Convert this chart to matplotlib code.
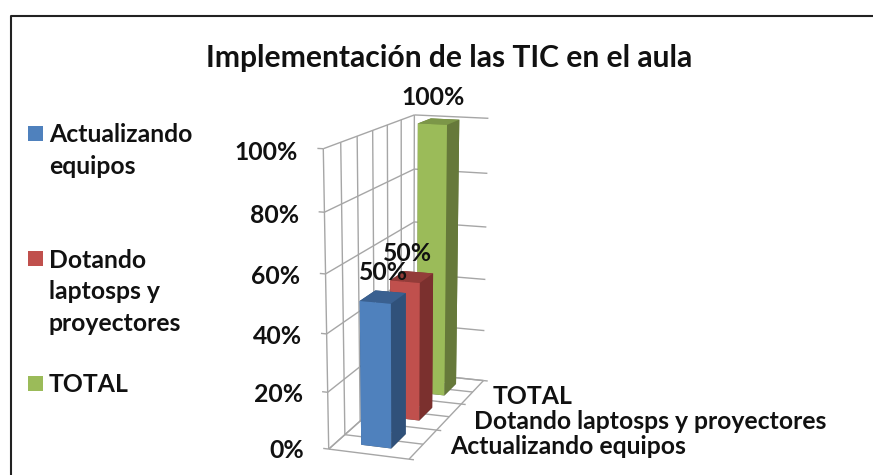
import numpy as np
import matplotlib
matplotlib.use("Agg")
import matplotlib.pyplot as plt
from mpl_toolkits.mplot3d import Axes3D  # noqa
from mpl_toolkits.mplot3d.art3d import Line3DCollection

categories = ["Actualizando equipos", "Dotando laptosps y proyectores", "TOTAL"]
legend_labels = ["Actualizando\nequipos", "Dotando\nlaptosps y\nproyectores", "TOTAL"]
values = [0.50, 0.50, 1.00]
value_labels = ["50%", "50%", "100%"]
yticks = [0.0, 0.2, 0.4, 0.6, 0.8, 1.0]
ytick_labels = ["0%", "20%", "40%", "60%", "80%", "100%"]
title = "Implementación de las TIC en el aula"
front_colors = ["#4F81BD", "#C0504D", "#9BBB59"]
side_colors = ["#30517A", "#7B302E", "#66793A"]
top_colors = ["#3A6090", "#933C39", "#7C9648"]

FONT = "Lato"
FS = 17.8
W, H = 873, 475

# Fit the chart's perspective: (x, depth, value) -> figure pixel
world = [(0, 0, 0), (0, 0, 1), (0, 3, 1), (1, 0, 0), (1, 3, 0), (1, 3, 1), (0, 3, 0)]
pix = [(328, 449), (323, 149), (415, 115), (410, 459), (483, 381), (488, 118), (414, 373)]
A, b = [], []
for (X, Y, Z), (u, v) in zip(world, pix):
    A.append([X, Y, Z, 1, 0, 0, 0, 0, -u * X, -u * Y, -u * Z]); b.append(u)
    A.append([0, 0, 0, 0, X, Y, Z, 1, -v * X, -v * Y, -v * Z]); b.append(v)
s = np.linalg.lstsq(np.array(A, float), np.array(b, float), rcond=None)[0]
M = np.array([[s[0], s[1], s[2], s[3]],
              [s[4], s[5], s[6], s[7]],
              [-0.3, 1.0, -0.3, 0.0],
              [s[8], s[9], s[10], 1.0]])

def proj(X, Y, Z):
    p = M @ np.array([X, Y, Z, 1.0])
    return p[0] / p[3], p[1] / p[3]

fig = plt.figure(figsize=(W / 100, H / 100), dpi=100)

# flat overlay in pixel coordinates for frame, title, legend
ov = fig.add_axes([0, 0, 1, 1], zorder=0)
ov.set_xlim(0, W)
ov.set_ylim(H, 0)
ov.axis("off")
ov.plot([10.5, 10.5, W + 5], [H + 5, 15.5, 15.5], color="#222222", lw=1.5)
ov.text(449.5, 58, title, ha="center", va="center", family=FONT, weight="bold",
        fontsize=21.6, color="#111111")
leg_y = [134, 259, 384]
for col, lab, ly in zip(front_colors, legend_labels, leg_y):
    ov.add_patch(plt.Rectangle((28, ly - 8), 15, 15, fc=col, ec="none"))
    ov.text(49, ly - 10.5, lab, ha="left", va="top", family=FONT, weight="bold", fontsize=FS,
            color="#111111", linespacing=1.47)

ax = fig.add_axes([0, 0, 1, 1], projection="3d", zorder=1)
ax.set_axis_off()
ax.patch.set_alpha(0)
ax.set_autoscale_on(False)
ax.computed_zorder = False
ax.get_proj = lambda: M
ax.apply_aspect = lambda position=None: None

n = len(categories)
segs = []
# value gridlines and ticks
for t in yticks:
    segs.append([(0, 0, t), (0, n, t)])
    segs.append([(0, n, t), (1, n, t)])
    segs.append([(-0.07, 0, t), (0, 0, t)])
# wall verticals and floor lines
for d in np.arange(0.5, n, 0.5):
    segs.append([(0, d, 0), (0, d, 1)])
    segs.append([(0, d, 0), (1, d, 0)])
for d in range(0, n + 1):
    segs.append([(1, d, 0), (1.06, d, 0)])
segs += [[(0, 0, 0), (1, 0, 0)], [(0, n, 0), (1, n, 0)], [(0, 0, 0), (0, 0, 1)],
         [(0, n, 0), (0, n, 1)], [(1, 0, 0), (1, n, 0)], [(0, 0, 0), (0, n, 0)]]
grid = Line3DCollection(segs, colors="#A6A6A6", linewidths=1.0, zorder=1)
ax.add_collection3d(grid, autolim=False)

# bars, back to front
bw, bd = 0.38, 0.5
for i in reversed(range(n)):
    x0 = (1 - bw) / 2
    y0 = i + (1 - bd) / 2
    cols = ["#555555", top_colors[i], front_colors[i], side_colors[i], side_colors[i], side_colors[i]]
    pc = ax.bar3d([x0], [y0], [0], [bw], [bd], [values[i]], color=cols, shade=False, zorder=3 + (n - i))
    pc.set_edgecolor("none")

# 2D view of the projected scene is plain pixel coordinates
ax._viewLim.intervalx = (0, W)
ax._viewLim.intervaly = (H, 0)

def label(X, Y, Z, s, ha):
    px, py = proj(X, Y, Z)
    ax.text2D(px, py, s, transform=ax.transData, ha=ha, va="center", family=FONT, weight="bold",
              fontsize=FS, color="#111111", zorder=20)

# value-axis labels
for t, lab in zip(yticks, ytick_labels):
    label(-0.31, 0, t - 0.016, lab, "right")

# data labels
for i, (v, lab, dx) in enumerate(zip(values, value_labels, [0.01, -0.06, -0.08])):
    label(0.5 + dx, i + 0.5, v + 0.082, lab, "center")

# category labels
for i, (c, dx, dz) in enumerate(zip(categories, [1.33, 1.33, 1.27], [0.003, -0.007, -0.01])):
    label(dx, i + 0.5, dz, c, "left")

fig.savefig("out.png", dpi=100)
